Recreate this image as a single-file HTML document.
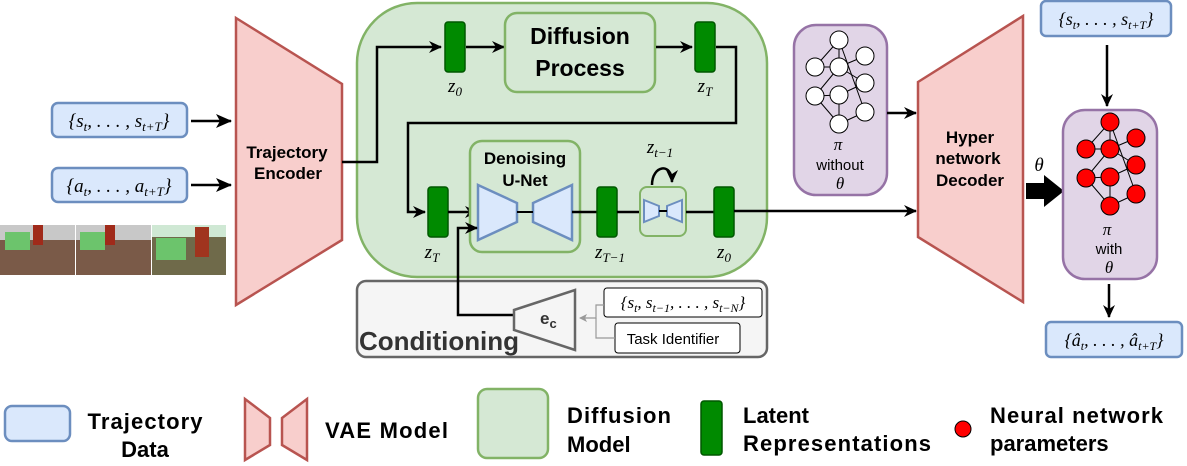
<!DOCTYPE html>
<html><head><meta charset="utf-8"><style>
html,body{margin:0;padding:0;background:#fff}
svg{display:block}
.b{font-family:"Liberation Sans",sans-serif;font-weight:bold;fill:#000}
.m{font-family:"Liberation Serif","DejaVu Serif",serif;font-style:italic;fill:#000}
.s{font-family:"Liberation Sans",sans-serif;fill:#000}
</style></head><body>
<svg width="1187" height="466" viewBox="0 0 1187 466" xmlns="http://www.w3.org/2000/svg">
<defs>
<marker id="ar" markerWidth="13" markerHeight="12" refX="12" refY="6" orient="auto" markerUnits="userSpaceOnUse"><path d="M0,0 L13,6 L0,12 L4,6 Z" fill="#000"/></marker>
<marker id="arb" markerWidth="16" markerHeight="14" refX="15" refY="7" orient="auto" markerUnits="userSpaceOnUse"><path d="M0,0 L16,7 L0,14 L4,7 Z" fill="#000"/></marker>
<marker id="ag" markerWidth="8" markerHeight="8" refX="7" refY="4" orient="auto" markerUnits="userSpaceOnUse"><path d="M0,0 L8,4 L0,8 L2,4 Z" fill="#999"/></marker>
</defs>

<rect x="52" y="103" width="135" height="34" rx="6" fill="#dae8fc" stroke="#6c8ebf" stroke-width="2.5"/>
<text x="119" y="127" class="m" font-size="19" text-anchor="middle">{s<tspan font-size="13" dy="4">t</tspan><tspan dy="-4">, . . . , s</tspan><tspan font-size="13" dy="4">t+T</tspan><tspan dy="-4">}</tspan></text>
<rect x="52" y="168" width="135" height="34" rx="6" fill="#dae8fc" stroke="#6c8ebf" stroke-width="2.5"/>
<text x="119" y="192" class="m" font-size="19" text-anchor="middle">{a<tspan font-size="13" dy="4">t</tspan><tspan dy="-4">, . . . , a</tspan><tspan font-size="13" dy="4">t+T</tspan><tspan dy="-4">}</tspan></text>
<line x1="191" y1="121" x2="231" y2="121" stroke="#000" stroke-width="2.5" marker-end="url(#arb)"/>
<line x1="191" y1="185" x2="231" y2="185" stroke="#000" stroke-width="2.5" marker-end="url(#arb)"/>

<g>
<rect x="0" y="225" width="75" height="50" fill="#7a5a48"/>
<rect x="0" y="225" width="75" height="15" fill="#c8c8c8"/>
<rect x="5" y="232" width="25" height="18" fill="#6cc46c"/>
<rect x="33" y="225" width="10" height="20" fill="#a02a1a"/>
<rect x="76" y="225" width="75" height="50" fill="#7a5a48"/>
<rect x="76" y="225" width="75" height="15" fill="#c8c8c8"/>
<rect x="80" y="232" width="25" height="18" fill="#6cc46c"/>
<rect x="105" y="225" width="10" height="20" fill="#a02a1a"/>
<rect x="152" y="225" width="74" height="50" fill="#6f6a4a"/>
<rect x="152" y="225" width="74" height="12" fill="#cfe8d4"/>
<rect x="156" y="238" width="30" height="22" fill="#6cc46c"/>
<rect x="195" y="227" width="14" height="30" fill="#a0341e"/>
</g>

<polygon points="236,18 342,84 342,240 236,305" fill="#f8cecc" stroke="#b85450" stroke-width="2.5"/>
<text x="287" y="158" class="b" font-size="17" text-anchor="middle">Trajectory</text>
<text x="288" y="179" class="b" font-size="17" text-anchor="middle">Encoder</text>

<rect x="357" y="3" width="410" height="274" rx="60" fill="#d5e8d4" stroke="#82b366" stroke-width="2.5"/>
<polyline points="342,162 377,162 377,47 441,47" fill="none" stroke="#000" stroke-width="2.5" marker-end="url(#ar)"/>
<rect x="445" y="22" width="20" height="50" rx="3" fill="#008a00" stroke="#005700" stroke-width="1.5"/>
<text x="455" y="92" class="m" font-size="19" text-anchor="middle">z<tspan font-size="13" dy="4">0</tspan></text>
<line x1="466" y1="47" x2="504" y2="47" stroke="#000" stroke-width="2.5" marker-end="url(#ar)"/>
<rect x="505" y="13" width="150" height="79" rx="12" fill="#d5e8d4" stroke="#82b366" stroke-width="2.5"/>
<text x="580" y="44" class="b" font-size="23" text-anchor="middle">Diffusion</text>
<text x="580" y="76" class="b" font-size="23" text-anchor="middle">Process</text>
<line x1="656" y1="47" x2="692" y2="47" stroke="#000" stroke-width="2.5" marker-end="url(#ar)"/>
<rect x="695" y="22" width="20" height="50" rx="3" fill="#008a00" stroke="#005700" stroke-width="1.5"/>
<text x="705" y="92" class="m" font-size="19" text-anchor="middle">z<tspan font-size="13" dy="4">T</tspan></text>
<polyline points="716,47 736,47 736,123 408,123 408,212 425,212" fill="none" stroke="#000" stroke-width="2.5" marker-end="url(#ar)"/>

<rect x="428" y="187" width="20" height="50" rx="3" fill="#008a00" stroke="#005700" stroke-width="1.5"/>
<text x="432" y="258" class="m" font-size="19" text-anchor="middle">z<tspan font-size="13" dy="4">T</tspan></text>
<line x1="448" y1="212" x2="477" y2="212" stroke="#000" stroke-width="2.5" marker-end="url(#ar)"/>

<rect x="470" y="141" width="110" height="111" rx="12" fill="#d5e8d4" stroke="#82b366" stroke-width="2.5"/>
<text x="525" y="164" class="b" font-size="17" text-anchor="middle">Denoising</text>
<text x="525" y="186" class="b" font-size="17" text-anchor="middle">U-Net</text>
<polygon points="478,185 517,203 517,222 478,240" fill="#dae8fc" stroke="#6c8ebf" stroke-width="2.5"/>
<polygon points="572,185 533,203 533,222 572,240" fill="#dae8fc" stroke="#6c8ebf" stroke-width="2.5"/>
<line x1="517" y1="212" x2="533" y2="212" stroke="#000" stroke-width="2"/>
<line x1="572" y1="212" x2="597" y2="212" stroke="#000" stroke-width="2.5"/>
<rect x="597" y="187" width="20" height="50" rx="3" fill="#008a00" stroke="#005700" stroke-width="1.5"/>
<text x="610" y="258" class="m" font-size="19" text-anchor="middle">z<tspan font-size="13" dy="4">T−1</tspan></text>
<line x1="617" y1="212" x2="640" y2="212" stroke="#000" stroke-width="2.5"/>
<rect x="640" y="187" width="46" height="49" rx="7" fill="#d5e8d4" stroke="#82b366" stroke-width="2"/>
<polygon points="644,200 659,206 659,216 644,222" fill="#dae8fc" stroke="#6c8ebf" stroke-width="2"/>
<polygon points="682,200 667,206 667,216 682,222" fill="#dae8fc" stroke="#6c8ebf" stroke-width="2"/>
<line x1="659" y1="211" x2="667" y2="211" stroke="#000" stroke-width="2"/>
<path d="M652,185 C652,165 672,162 672,182" fill="none" stroke="#000" stroke-width="2.5" marker-end="url(#ar)"/>
<text x="660" y="153" class="m" font-size="19" text-anchor="middle">z<tspan font-size="13" dy="4">t−1</tspan></text>
<line x1="686" y1="212" x2="714" y2="212" stroke="#000" stroke-width="2.5"/>
<rect x="714" y="187" width="20" height="50" rx="3" fill="#008a00" stroke="#005700" stroke-width="1.5"/>
<text x="724" y="258" class="m" font-size="19" text-anchor="middle">z<tspan font-size="13" dy="4">0</tspan></text>
<line x1="734" y1="211" x2="916" y2="211" stroke="#000" stroke-width="2.5" marker-end="url(#ar)"/>

<rect x="357" y="281" width="410" height="76" rx="9" fill="#f5f5f5" stroke="#666" stroke-width="2.5"/>
<text x="359" y="350" class="b" font-size="26" style="fill:#333" textLength="160">Conditioning</text>
<polyline points="515,315 458,315 458,228 477,228" fill="none" stroke="#000" stroke-width="2.5" marker-end="url(#ar)"/>
<polygon points="514,310 575,290 575,350 514,330" fill="#f5f5f5" stroke="#666" stroke-width="2.5"/>
<text x="540" y="324" class="b" font-size="17" style="fill:#333">e<tspan font-size="13" dy="4">c</tspan></text>
<rect x="604" y="288" width="158" height="29" rx="3" fill="#fff" stroke="#000" stroke-width="1"/>
<text x="683" y="308" class="m" font-size="17" text-anchor="middle">{s<tspan font-size="12" dy="4">t</tspan><tspan dy="-4">, s</tspan><tspan font-size="12" dy="4">t−1</tspan><tspan dy="-4">, . . . , s</tspan><tspan font-size="12" dy="4">t−N</tspan><tspan dy="-4">}</tspan></text>
<rect x="615" y="323" width="125" height="30" rx="3" fill="#fff" stroke="#000" stroke-width="1"/>
<text x="673" y="344" class="s" font-size="15" text-anchor="middle">Task Identifier</text>
<polyline points="604,305 596,305 596,318 580,318" fill="none" stroke="#999" stroke-width="1.2" marker-end="url(#ag)"/>
<polyline points="615,338 596,338 596,318" fill="none" stroke="#999" stroke-width="1.2"/>

<rect x="794" y="25" width="93" height="170" rx="22" fill="#e1d5e7" stroke="#9673a6" stroke-width="2.5"/>
<g stroke="#000" stroke-width="1">
<line x1="839" y1="40" x2="815" y2="67"/><line x1="839" y1="40" x2="865" y2="112"/><line x1="839" y1="40" x2="839" y2="67"/>
<line x1="815" y1="67" x2="839" y2="67"/><line x1="839" y1="67" x2="865" y2="56"/><line x1="839" y1="67" x2="815" y2="96"/>
<line x1="839" y1="67" x2="865" y2="83"/><line x1="815" y1="96" x2="839" y2="95"/><line x1="839" y1="95" x2="865" y2="83"/>
<line x1="839" y1="95" x2="839" y2="124"/><line x1="815" y1="96" x2="839" y2="124"/><line x1="839" y1="124" x2="865" y2="112"/>
</g>
<g fill="#fff" stroke="#000" stroke-width="1">
<circle cx="839" cy="40" r="9"/><circle cx="815" cy="67" r="9"/><circle cx="839" cy="67" r="9"/><circle cx="865" cy="56" r="9"/>
<circle cx="815" cy="96" r="9"/><circle cx="839" cy="95" r="9"/><circle cx="865" cy="83" r="9"/><circle cx="865" cy="112" r="9"/><circle cx="839" cy="124" r="9"/>
</g>
<text x="838" y="150" class="m" font-size="17" text-anchor="middle">π</text>
<text x="840" y="170" class="s" font-size="15" text-anchor="middle">without</text>
<text x="840" y="189" class="m" font-size="17" text-anchor="middle">θ</text>
<line x1="887" y1="113" x2="916" y2="113" stroke="#000" stroke-width="2.5" marker-end="url(#ar)"/>

<polygon points="918,82 1023,16 1023,302 918,237" fill="#f8cecc" stroke="#b85450" stroke-width="2.5"/>
<text x="970" y="143" class="b" font-size="17" text-anchor="middle">Hyper</text>
<text x="968" y="164" class="b" font-size="17" text-anchor="middle">network</text>
<text x="970" y="186" class="b" font-size="17" text-anchor="middle">Decoder</text>

<polygon points="1026,183 1044,183 1044,175 1064,191 1044,207 1044,199 1026,199" fill="#000"/>
<text x="1039" y="171" class="m" font-size="19" text-anchor="middle">θ</text>

<rect x="1063" y="110" width="94" height="169" rx="22" fill="#e1d5e7" stroke="#9673a6" stroke-width="2.5"/>
<g transform="translate(271,82)">
<g stroke="#000" stroke-width="1">
<line x1="839" y1="40" x2="815" y2="67"/><line x1="839" y1="40" x2="865" y2="112"/><line x1="839" y1="40" x2="839" y2="67"/>
<line x1="815" y1="67" x2="839" y2="67"/><line x1="839" y1="67" x2="865" y2="56"/><line x1="839" y1="67" x2="815" y2="96"/>
<line x1="839" y1="67" x2="865" y2="83"/><line x1="815" y1="96" x2="839" y2="95"/><line x1="839" y1="95" x2="865" y2="83"/>
<line x1="839" y1="95" x2="839" y2="124"/><line x1="815" y1="96" x2="839" y2="124"/><line x1="839" y1="124" x2="865" y2="112"/>
</g>
<g fill="#ff0000" stroke="#000" stroke-width="1">
<circle cx="839" cy="40" r="9"/><circle cx="815" cy="67" r="9"/><circle cx="839" cy="67" r="9"/><circle cx="865" cy="56" r="9"/>
<circle cx="815" cy="96" r="9"/><circle cx="839" cy="95" r="9"/><circle cx="865" cy="83" r="9"/><circle cx="865" cy="112" r="9"/><circle cx="839" cy="124" r="9"/>
</g>
</g>
<text x="1107" y="235" class="m" font-size="17" text-anchor="middle">π</text>
<text x="1109" y="254" class="s" font-size="15" text-anchor="middle">with</text>
<text x="1109" y="273" class="m" font-size="17" text-anchor="middle">θ</text>

<rect x="1041" y="1" width="130" height="35" rx="5" fill="#dae8fc" stroke="#6c8ebf" stroke-width="2.5"/>
<text x="1106" y="25" class="m" font-size="18" text-anchor="middle">{s<tspan font-size="12" dy="4">t</tspan><tspan dy="-4">, . . . , s</tspan><tspan font-size="12" dy="4">t+T</tspan><tspan dy="-4">}</tspan></text>
<line x1="1107" y1="45" x2="1107" y2="106" stroke="#000" stroke-width="2.5" marker-end="url(#ar)"/>
<line x1="1109" y1="284" x2="1109" y2="317" stroke="#000" stroke-width="2.5" marker-end="url(#ar)"/>
<rect x="1046" y="322" width="136" height="35" rx="5" fill="#dae8fc" stroke="#6c8ebf" stroke-width="2.5"/>
<text x="1114" y="346" class="m" font-size="18" text-anchor="middle">{â<tspan font-size="12" dy="4">t</tspan><tspan dy="-4">, . . . , â</tspan><tspan font-size="12" dy="4">t+T</tspan><tspan dy="-4">}</tspan></text>

<rect x="5" y="406" width="65" height="35" rx="7" fill="#dae8fc" stroke="#6c8ebf" stroke-width="2.5"/>
<text x="145" y="429" class="b" font-size="22" text-anchor="middle" textLength="115">Trajectory</text>
<text x="145" y="457" class="b" font-size="22" text-anchor="middle">Data</text>
<polygon points="245,399 270,418 270,445 245,460" fill="#f8cecc" stroke="#b85450" stroke-width="2.5"/>
<polygon points="307,399 282,418 282,445 307,460" fill="#f8cecc" stroke="#b85450" stroke-width="2.5"/>
<text x="325" y="438" class="b" font-size="22" textLength="123">VAE Model</text>
<rect x="478" y="389" width="70" height="69" rx="9" fill="#d5e8d4" stroke="#82b366" stroke-width="2.5"/>
<text x="567" y="423" class="b" font-size="22" textLength="104">Diffusion</text>
<text x="567" y="452" class="b" font-size="22">Model</text>
<rect x="701" y="401" width="21" height="54" rx="3" fill="#008a00" stroke="#005700" stroke-width="1.5"/>
<text x="743" y="423" class="b" font-size="22">Latent</text>
<text x="743" y="451" class="b" font-size="22" textLength="188">Representations</text>
<circle cx="963" cy="429" r="8" fill="#ff0000" stroke="#000" stroke-width="1"/>
<text x="990" y="423" class="b" font-size="22" textLength="173">Neural network</text>
<text x="990" y="451" class="b" font-size="22">parameters</text>
</svg>
</body></html>
